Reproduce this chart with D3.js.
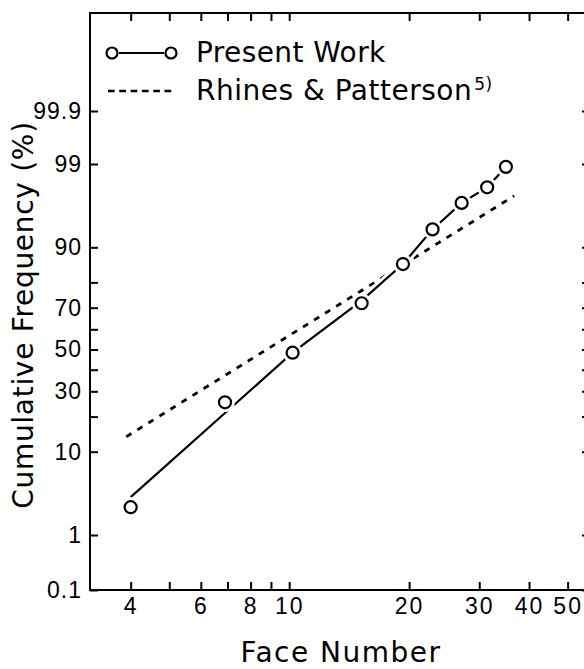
<!DOCTYPE html>
<html><head><meta charset="utf-8">
<script src="https://cdn.jsdelivr.net/npm/d3@7"></script>
<style>body{margin:0;background:#fff}svg{display:block}</style>
</head><body>
<svg id="chart" width="584" height="669"></svg>
<script>
// ---- data ----
const faceX  = [4.0, 6.9, 10.2, 15.2, 19.3, 22.9, 27.1, 31.4, 35.0];
const cumP   = [2.4, 25.4, 48.4, 71.9, 85.8, 93.4, 96.7, 97.9, 98.9];
const lineX  = [4.0, 10.2, 15.2, 19.3, 22.9, 27.1, 31.4, 35.0];
const lineP  = [3.2, 48.4, 73.0, 85.8, 93.4, 96.7, 97.9, 98.9];
const rhinesX = [3.9, 36.7];
const rhinesP = [13.7, 97.3];
const xTicks  = [4, 5, 6, 7, 8, 9, 10, 20, 30, 40, 50];
const xLabels = [4, 6, 8, 10, 20, 30, 40, 50];
const yTicks  = [0.1, 1, 10, 20, 30, 40, 50, 60, 70, 80, 90, 99, 99.9];
const yLabels = ["0.1", "1", "10", "30", "50", "70", "90", "99", "99.9"];
const legendNames = ["Present Work", "Rhines & Patterson"];

// inverse normal CDF (Acklam)
function probit(p) {
  const a = [-3.969683028665376e+01, 2.209460984245205e+02, -2.759285104469687e+02, 1.383577518672690e+02, -3.066479806614716e+01, 2.506628277459239e+00];
  const b = [-5.447609879822406e+01, 1.615858368580409e+02, -1.556989798598866e+02, 6.680131188771972e+01, -1.328068155288572e+01];
  const c = [-7.784894002430293e-03, -3.223964580411365e-01, -2.400758277161838e+00, -2.549732539343734e+00, 4.374664141464968e+00, 2.938163982698783e+00];
  const d = [7.784695709041462e-03, 3.224671290700398e-01, 2.445134137142996e+00, 3.754408661907416e+00];
  const plow = 0.02425;
  let q, r;
  if (p < plow) {
    q = Math.sqrt(-2 * Math.log(p));
    return (((((c[0]*q+c[1])*q+c[2])*q+c[3])*q+c[4])*q+c[5]) / ((((d[0]*q+d[1])*q+d[2])*q+d[3])*q+1);
  } else if (p > 1 - plow) {
    q = Math.sqrt(-2 * Math.log(1 - p));
    return -(((((c[0]*q+c[1])*q+c[2])*q+c[3])*q+c[4])*q+c[5]) / ((((d[0]*q+d[1])*q+d[2])*q+d[3])*q+1);
  }
  q = p - 0.5; r = q * q;
  return (((((a[0]*r+a[1])*r+a[2])*r+a[3])*r+a[4])*r+a[5])*q / (((((b[0]*r+b[1])*r+b[2])*r+b[3])*r+b[4])*r+1);
}
const z = p => probit(p / 100);

// ---- layout ----
const L = 90, R = 590, T = 13, B = 590;
const FONT = "DejaVu Sans";
const TICKFONT = "Liberation Sans";
const svg = d3.select("#chart");

const x = d3.scaleLog().domain([3.162, 56.9]).range([L, R]);
const y = d3.scaleLinear()
  .domain([z(0.1), z(1), z(99), z(99.9)])
  .range([590, 535, 164, 111]);

// frame
svg.append("rect").attr("x", L).attr("y", T).attr("width", R - L).attr("height", B - T)
  .attr("fill", "none").attr("stroke", "#000").attr("stroke-width", 2);

function styleAxis(g, ls) {
  g.select(".domain").remove();
  g.selectAll(".tick line").attr("stroke", "#000").attr("stroke-width", 2);
  g.attr("font-family", TICKFONT).attr("font-size", 23);
  g.selectAll(".tick text").attr("fill", "#000").style("letter-spacing", ls + "px");
}

// top axis
svg.append("g").attr("transform", `translate(0,${T})`)
  .call(d3.axisTop(x).tickValues(xTicks).tickSize(-8).tickSizeOuter(0).tickFormat(""))
  .call(g => styleAxis(g, 0));
// left axis
svg.append("g").attr("transform", `translate(${L},0)`)
  .call(d3.axisLeft(y).tickValues(yTicks.map(z)).tickSize(-8).tickSizeOuter(0).tickPadding(8)
    .tickFormat((v, i) => yLabels.includes(String(yTicks[i])) ? String(yTicks[i]) : ""))
  .call(g => styleAxis(g, 1));
// right axis
svg.append("g").attr("transform", `translate(${R},0)`)
  .call(d3.axisRight(y).tickValues(yTicks.map(z)).tickSize(-8).tickSizeOuter(0).tickFormat(""))
  .call(g => styleAxis(g, 0));

// axis titles
svg.append("text").attr("x", 341).attr("y", 662).attr("text-anchor", "middle")
  .attr("font-family", FONT).attr("font-size", 28).style("letter-spacing", "1.5px")
  .text("Face Number");
svg.append("text").attr("transform", "translate(33,315) rotate(-90)").attr("text-anchor", "middle")
  .attr("font-family", FONT).attr("font-size", 28).style("letter-spacing", "0.7px")
  .text("Cumulative Frequency (%)");

// Rhines & Patterson dashed line
const line = d3.line().x(d => x(d[0])).y(d => y(z(d[1])));
svg.append("path").datum(rhinesX.map((v, i) => [v, rhinesP[i]]))
  .attr("d", line).attr("fill", "none").attr("stroke", "#000")
  .attr("stroke-width", 2.8).attr("stroke-dasharray", "6,7");

// present work line (white casing then black)
const presentLine = lineX.map((v, i) => [v, lineP[i]]);
svg.append("path").datum(presentLine).attr("d", line).attr("fill", "none")
  .attr("stroke", "#fff").attr("stroke-width", 8);
svg.append("path").datum(presentLine).attr("d", line).attr("fill", "none")
  .attr("stroke", "#000").attr("stroke-width", 2.2);

// points with white halo
const pts = faceX.map((v, i) => [v, cumP[i]]);
svg.append("g").selectAll("circle").data(pts).join("circle")
  .attr("cx", d => x(d[0])).attr("cy", d => y(z(d[1]))).attr("r", 10).attr("fill", "#fff");
svg.append("g").selectAll("circle").data(pts).join("circle")
  .attr("cx", d => x(d[0])).attr("cy", d => y(z(d[1]))).attr("r", 6)
  .attr("fill", "#fff").attr("stroke", "#000").attr("stroke-width", 2.2);

// legend
const lg = svg.append("g");
lg.append("line").attr("x1", 119).attr("x2", 164).attr("y1", 53).attr("y2", 53)
  .attr("stroke", "#000").attr("stroke-width", 2.2);
[112, 171].forEach(cx => lg.append("circle").attr("cx", cx).attr("cy", 53).attr("r", 5.5)
  .attr("fill", "#fff").attr("stroke", "#000").attr("stroke-width", 2.2));
lg.append("text").attr("x", 196).attr("y", 62).attr("font-family", FONT).attr("font-size", 28)
  .style("letter-spacing", "0.4px").text(legendNames[0]);
lg.append("line").attr("x1", 108).attr("x2", 172).attr("y1", 91).attr("y2", 91)
  .attr("stroke", "#000").attr("stroke-width", 2.6).attr("stroke-dasharray", "6.7,4.6");
const t2 = lg.append("text").attr("x", 196).attr("y", 100).attr("font-family", FONT).attr("font-size", 28)
  .style("letter-spacing", "0.5px");
t2.append("tspan").text(legendNames[1]);
t2.append("tspan").attr("font-size", 17).attr("dy", -10).attr("dx", 2).text("5)");

// bottom axis (drawn last so nothing overlays its labels)
svg.append("g").attr("transform", `translate(0,${B})`)
  .call(d3.axisBottom(x).tickValues(xTicks).tickSize(-8).tickSizeOuter(0).tickPadding(8)
    .tickFormat(d => xLabels.includes(d) ? String(d) : ""))
  .call(g => styleAxis(g, 2));
</script>
</body></html>
